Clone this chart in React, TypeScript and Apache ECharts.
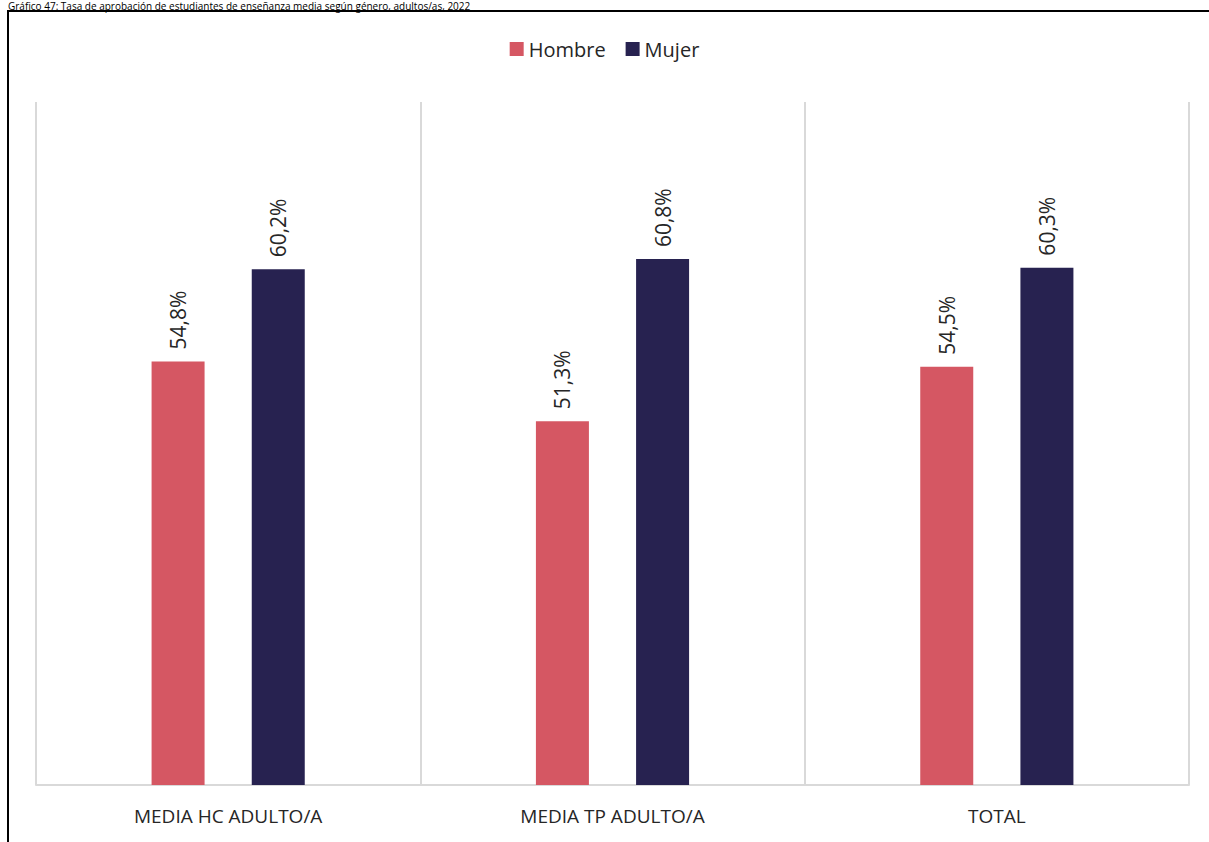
import React, { useEffect, useRef } from "react";
import * as echarts from "echarts";

const categories = ["MEDIA HC ADULTO/A", "MEDIA TP ADULTO/A", "TOTAL"];
const hombre = [54.8, 51.3, 54.5];
const mujer = [60.2, 60.8, 60.3];
const seriesNames = ["Hombre", "Mujer"];
const titleText =
  "Gráfico 47: Tasa de aprobación de estudiantes de enseñanza media según género, adultos/as, 2022";

const FONT = "'Open Sans', 'Noto Sans', sans-serif";

export default function App() {
  const ref = useRef<HTMLDivElement>(null);
  useEffect(() => {
    if (!ref.current) return;
    const chart = echarts.init(ref.current, undefined, { renderer: "svg" });
    const fmt = (p: any) => Number(p.value).toFixed(1).replace(".", ",") + "%";
    const label = {
      show: true,
      position: "top",
      rotate: 90,
      align: "left",
      verticalAlign: "middle",
      distance: 12,
      fontSize: 21,
      color: "#262626",
      fontFamily: FONT,
      formatter: fmt,
    };
    chart.setOption({
      animation: false,
      backgroundColor: "#ffffff",
      textStyle: { fontFamily: FONT },
      graphic: [
        {
          type: "rect",
          shape: { x: 8, y: 11, width: 1400, height: 1000 },
          style: { fill: "none", stroke: "#000000", lineWidth: 2 },
          silent: true,
        },
        {
          type: "text",
          x: 8,
          y: 1,
          style: {
            text: titleText,
            fontSize: 10,
            fontFamily: FONT,
            fill: "#000000",
            textVerticalAlign: "top",
          },
          silent: true,
        },
      ],
      legend: {
        top: 34,
        left: "center",
        icon: "rect",
        itemWidth: 14,
        itemHeight: 14,
        itemGap: 20,
        itemTextGap: 6,
        textStyle: { fontSize: 20, color: "#262626", fontFamily: FONT },
        data: seriesNames,
      },
      grid: { left: 36, right: 20, top: 102, bottom: 57, containLabel: false },
      xAxis: {
        type: "category",
        data: categories,
        axisLine: { show: true, lineStyle: { color: "#d9d9d9", width: 2 } },
        axisTick: { show: false },
        splitLine: { show: true, lineStyle: { color: "#d9d9d9", width: 2 } },
        axisLabel: { fontSize: 19, color: "#262626", margin: 21, fontFamily: FONT },
      },
      yAxis: {
        type: "value",
        min: 30,
        max: 70,
        show: false,
        splitLine: { show: false },
      },
      series: [
        {
          name: seriesNames[0],
          type: "bar",
          data: hombre,
          barWidth: 53,
          barGap: "89%",
          itemStyle: { color: "#D55763" },
          label,
        },
        {
          name: seriesNames[1],
          type: "bar",
          data: mujer,
          barWidth: 53,
          itemStyle: { color: "#272250" },
          label,
        },
      ],
    });
    return () => chart.dispose();
  }, []);
  return (
    <div
      ref={ref}
      style={{ position: "absolute", left: 0, top: 0, width: 1209, height: 842 }}
    />
  );
}
